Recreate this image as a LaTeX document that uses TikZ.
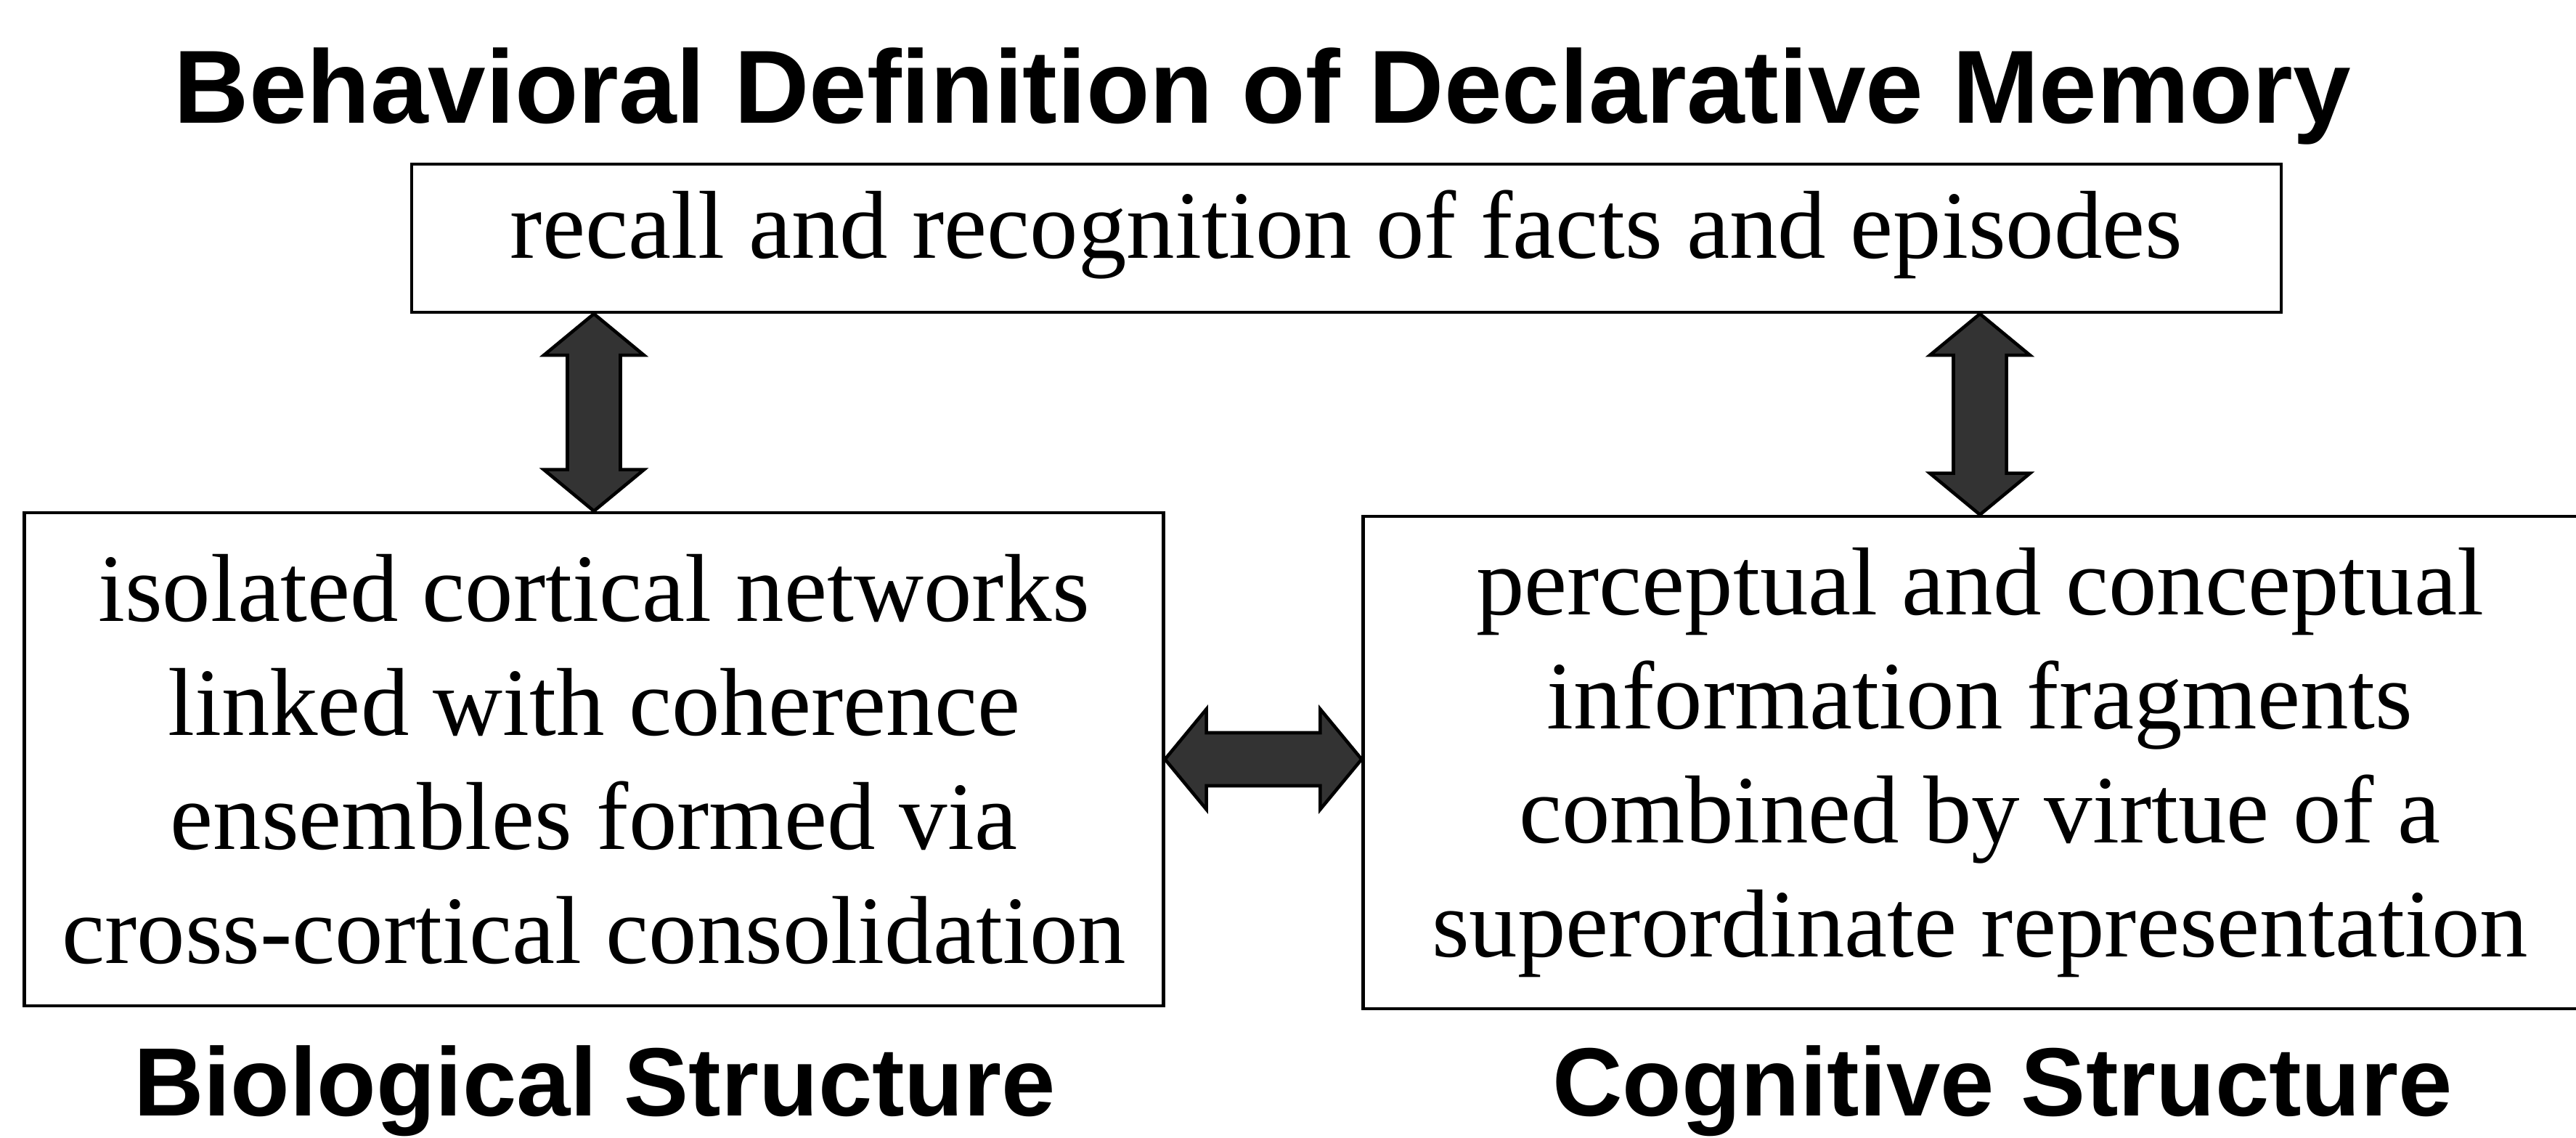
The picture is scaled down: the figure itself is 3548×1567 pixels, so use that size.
\documentclass[tikz,border=0pt]{standalone}
\usepackage{fontspec}
\setmainfont{Liberation Serif}
\newfontfamily\headfont{Liberation Sans}
\usetikzlibrary{calc}

% filled double-headed block arrow between two named coordinates
\newcommand\dblblock[2]{%
  \path[blockarrow]
    (#1)
    -- ($(#1)!\arrhead!(#2)!\arrhalf!90:(#2)$)
    -- ($(#1)!\arrhead!(#2)!\arrshaft!90:(#2)$)
    -- ($(#2)!\arrhead!(#1)!\arrshaft!-90:(#1)$)
    -- ($(#2)!\arrhead!(#1)!\arrhalf!-90:(#1)$)
    -- (#2)
    -- ($(#2)!\arrhead!(#1)!\arrhalf!90:(#1)$)
    -- ($(#2)!\arrhead!(#1)!\arrshaft!90:(#1)$)
    -- ($(#1)!\arrhead!(#2)!\arrshaft!-90:(#2)$)
    -- ($(#1)!\arrhead!(#2)!\arrhalf!-90:(#2)$)
    -- cycle;}
\newcommand\arrhead{0.57cm}
\newcommand\arrhalf{0.69cm}
\newcommand\arrshaft{0.365cm}

\tikzset{
  textbox/.style={draw=black, line width=1.2pt, fill=white, inner sep=0pt,
    align=center, font=\fontsize{37.8}{44.7}\selectfont},
  heading/.style={anchor=base, inner sep=0pt, font=\headfont\bfseries\fontsize{40.7}{48}\selectfont},
  caption/.style={anchor=base, inner sep=0pt, font=\headfont\bfseries\fontsize{38}{46}\selectfont},
  blockarrow/.style={fill=black!80, draw=black, line width=1.3pt, line join=miter},
}

\begin{document}
\begin{tikzpicture}[x=0.01cm, y=-0.01cm]
  \path[use as bounding box, clip] (0,0) rectangle (3548,1567);

  % heading
  \node[heading] (title) at (1739,170) {Behavioral Definition of Declarative Memory};

  % behavioural definition
  \node[textbox, minimum width=25.73cm, minimum height=2.04cm, text height=0.84cm] (top) at (1854.5,328)
    {recall and recognition of facts and episodes};

  % biological structure
  \node[textbox, minimum width=15.68cm, minimum height=6.79cm] (bio) at (818,1045.5)
    {isolated cortical networks\\linked with coherence\\ensembles formed via\\cross-cortical consolidation};

  % cognitive structure
  \node[textbox, minimum width=16.98cm, minimum height=6.78cm] (cog) at (2727,1050)
    {perceptual and conceptual\\information fragments\\combined by virtue of a\\superordinate representation};

  % captions under the boxes
  \node[caption] (biolabel) at (819,1536) {Biological Structure};
  \node[caption] (coglabel) at (2758,1536) {Cognitive Structure};

  % arrow end points on the box borders
  \coordinate (a1) at (top.south -| bio.north);
  \coordinate (a2) at (bio.north);
  \coordinate (b1) at (top.south -| cog.north);
  \coordinate (b2) at (cog.north);
  \coordinate (c1) at (bio.east);
  \coordinate (c2) at (bio.east -| cog.west);

  \dblblock{a1}{a2}
  \dblblock{b1}{b2}
  \dblblock{c1}{c2}
\end{tikzpicture}
\end{document}
